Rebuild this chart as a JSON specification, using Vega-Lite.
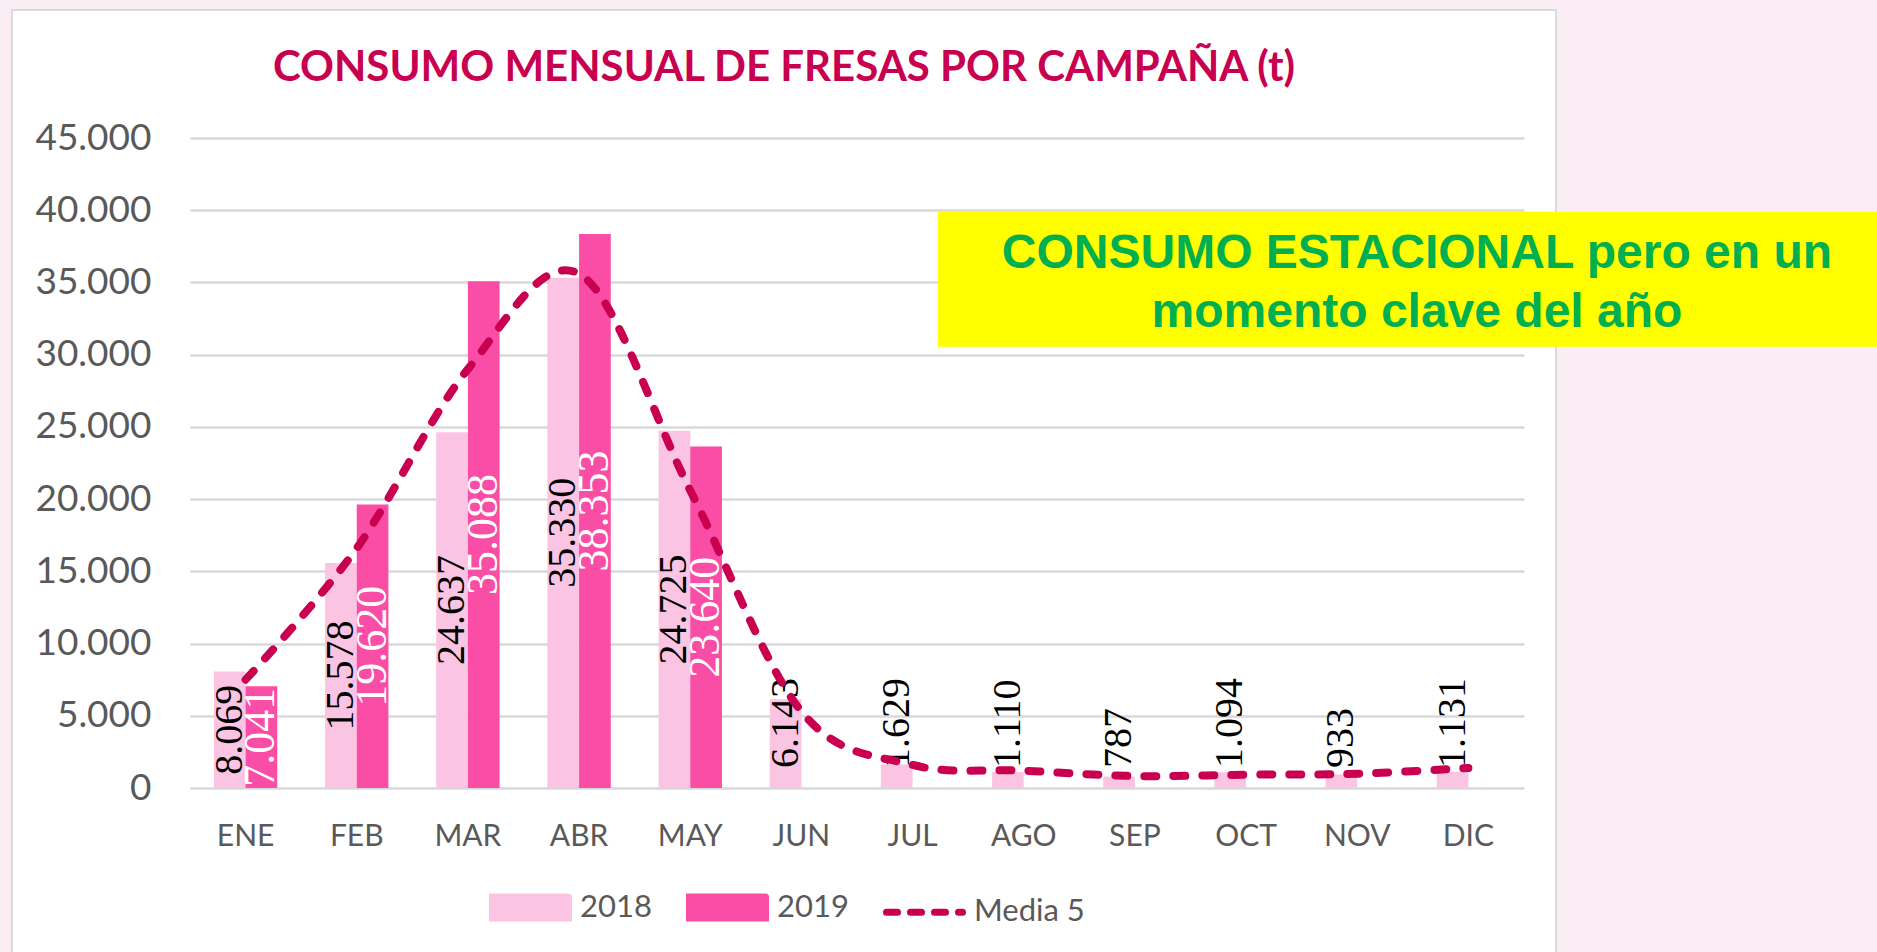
{
  "$schema": "https://vega.github.io/schema/vega-lite/v6.json",
  "width": 1544,
  "height": 950,
  "autosize": {"type": "none"},
  "padding": {"left": 12, "top": 10, "right": 321, "bottom": 0},
  "background": "#FAEEF4",
  "config": {
    "view": {"fill": "#FFFFFF", "stroke": "#D9D9D9", "strokeWidth": 2},
    "locale": {"number": {"decimal": ",", "thousands": ".", "grouping": [3], "currency": ["", " €"]}}
  },
  "title": {
    "text": "CONSUMO MENSUAL DE FRESAS POR CAMPAÑA (t)",
    "font": "Lato", "fontSize": 42, "fontWeight": "bold", "color": "#C8004F",
    "anchor": "middle", "frame": "group", "baseline": "alphabetic", "offset": -113
  },
  "datasets": {
    "bars": [
      {"mes": "ENE", "campana": "2018", "valor": 8069},
      {"mes": "ENE", "campana": "2019", "valor": 7041},
      {"mes": "FEB", "campana": "2018", "valor": 15578},
      {"mes": "FEB", "campana": "2019", "valor": 19620},
      {"mes": "MAR", "campana": "2018", "valor": 24637},
      {"mes": "MAR", "campana": "2019", "valor": 35088},
      {"mes": "ABR", "campana": "2018", "valor": 35330},
      {"mes": "ABR", "campana": "2019", "valor": 38353},
      {"mes": "MAY", "campana": "2018", "valor": 24725},
      {"mes": "MAY", "campana": "2019", "valor": 23640},
      {"mes": "JUN", "campana": "2018", "valor": 6143},
      {"mes": "JUL", "campana": "2018", "valor": 1629},
      {"mes": "AGO", "campana": "2018", "valor": 1110},
      {"mes": "SEP", "campana": "2018", "valor": 787},
      {"mes": "OCT", "campana": "2018", "valor": 1094},
      {"mes": "NOV", "campana": "2018", "valor": 933},
      {"mes": "DIC", "campana": "2018", "valor": 1131}
    ],
    "media": [
      {"mes": "ENE", "valor": 7500},
      {"mes": "FEB", "valor": 16600},
      {"mes": "MAR", "valor": 29000},
      {"mes": "ABR", "valor": 35600},
      {"mes": "MAY", "valor": 20600},
      {"mes": "JUN", "valor": 5300},
      {"mes": "JUL", "valor": 1600},
      {"mes": "AGO", "valor": 1200},
      {"mes": "SEP", "valor": 830},
      {"mes": "OCT", "valor": 920},
      {"mes": "NOV", "valor": 990},
      {"mes": "DIC", "valor": 1390}
    ]
  },
  "layer": [
    {
      "layer": [
        {
          "data": {"name": "bars"},
          "mark": {"type": "bar"},
          "encoding": {
            "x": {
              "field": "mes", "type": "nominal",
              "sort": ["ENE","FEB","MAR","ABR","MAY","JUN","JUL","AGO","SEP","OCT","NOV","DIC"],
              "scale": {"domain": ["ENE","FEB","MAR","ABR","MAY","JUN","JUL","AGO","SEP","OCT","NOV","DIC"], "range": [178, 1512], "paddingInner": 0.43, "paddingOuter": 0.215},
              "axis": {"title": null, "labelFont": "Lato", "labelFontSize": 30, "labelColor": "#595959", "domain": false, "ticks": false, "tickSize": 0, "labelPadding": 33, "offset": -172, "labelAngle": 0, "grid": false}
            },
            "xOffset": {"field": "campana", "type": "nominal", "scale": {"domain": ["2018", "2019"]}},
            "y": {
              "field": "valor", "type": "quantitative",
              "scale": {"domain": [0, 45000], "range": [778, 128], "nice": false},
              "axis": {"title": null, "values": [0,5000,10000,15000,20000,25000,30000,35000,40000,45000], "format": ",.0f", "labelFont": "Lato", "labelFontSize": 37, "labelColor": "#595959", "domain": false, "ticks": false, "tickSize": 0, "labelPadding": 10, "offset": -149, "grid": true, "gridColor": "#D9D9D9", "gridWidth": 2.5}
            },
            "color": {
              "field": "campana", "type": "nominal",
              "scale": {"domain": ["2018", "2019", "Media 5"], "range": ["#FBC4E3", "#FA4DA6", "#C8004F"]},
              "legend": {
                "orient": "none", "legendX": 477, "legendY": 856, "direction": "horizontal",
                "title": null, "padding": 0,
                "symbolSize": 5776, "symbolType": "M-1,-0.276H1V0.276H-1Z", "symbolStrokeWidth": 7,
                "labelFont": "Lato", "labelFontSize": 31, "labelColor": "#595959", "labelOffset": 8, "labelLimit": 300,
                "columnPadding": 23,
                "encode": {
                  "symbols": {
                    "update": {
                      "shape": {"signal": "datum.value === 'Media 5' ? 'M-1,0H1' : 'M-1,-0.276H1V0.276H-1Z'"},
                      "fill": {"signal": "datum.value === 'Media 5' ? 'transparent' : (datum.value === '2018' ? '#FBC4E3' : '#FA4DA6')"},
                      "stroke": {"signal": "datum.value === 'Media 5' ? '#C8004F' : 'transparent'"},
                      "strokeDash": {"signal": "datum.value === 'Media 5' ? [11, 13] : [1, 0]"},
                      "strokeCap": {"value": "round"},
                      "opacity": {"value": 1}
                    }
                  }
                }
              }
            }
          }
        },
        {
          "data": {"name": "bars"},
          "transform": [{"filter": "datum.valor >= 7000"}],
          "mark": {"type": "text", "angle": 270, "align": "center", "baseline": "middle", "font": "Liberation Sans Narrow"},
          "encoding": {
            "x": {
              "field": "mes", "type": "nominal",
              "sort": ["ENE","FEB","MAR","ABR","MAY","JUN","JUL","AGO","SEP","OCT","NOV","DIC"],
              "scale": {"domain": ["ENE","FEB","MAR","ABR","MAY","JUN","JUL","AGO","SEP","OCT","NOV","DIC"], "range": [178, 1512], "paddingInner": 0.43, "paddingOuter": 0.215},
              "axis": null
            },
            "xOffset": {"field": "campana", "type": "nominal", "scale": {"domain": ["2018", "2019"]}},
            "y": {"field": "valor", "type": "quantitative", "scale": {"domain": [0, 90000], "range": [778, 128], "nice": false}, "axis": null},
            "text": {"field": "valor", "type": "quantitative", "format": ",.0f"},
            "color": {"condition": {"test": "datum.campana === '2019'", "value": "#FFFFFF"}, "value": "#000000"},
            "size": {"condition": {"test": "datum.campana === '2019'", "value": 44}, "value": 40}
          }
        },
        {
          "data": {"name": "bars"},
          "transform": [{"filter": "datum.valor < 7000"}],
          "mark": {"type": "text", "angle": 270, "align": "left", "baseline": "middle", "font": "Liberation Sans Narrow", "fontSize": 40, "yOffset": -20, "color": "#000000"},
          "encoding": {
            "x": {
              "field": "mes", "type": "nominal",
              "sort": ["ENE","FEB","MAR","ABR","MAY","JUN","JUL","AGO","SEP","OCT","NOV","DIC"],
              "scale": {"domain": ["ENE","FEB","MAR","ABR","MAY","JUN","JUL","AGO","SEP","OCT","NOV","DIC"], "range": [178, 1512], "paddingInner": 0.43, "paddingOuter": 0.215},
              "axis": null
            },
            "xOffset": {"field": "campana", "type": "nominal", "scale": {"domain": ["2018", "2019"]}},
            "y": {"datum": 0, "type": "quantitative", "scale": {"domain": [0, 45000], "range": [778, 128], "nice": false}, "axis": null},
            "text": {"field": "valor", "type": "quantitative", "format": ",.0f"}
          }
        },
        {
          "data": {"name": "media"},
          "mark": {"type": "line", "interpolate": "cardinal", "strokeWidth": 8, "strokeDash": [12, 17], "strokeCap": "round"},
          "encoding": {
            "x": {
              "field": "mes", "type": "nominal",
              "sort": ["ENE","FEB","MAR","ABR","MAY","JUN","JUL","AGO","SEP","OCT","NOV","DIC"],
              "scale": {"domain": ["ENE","FEB","MAR","ABR","MAY","JUN","JUL","AGO","SEP","OCT","NOV","DIC"], "range": [178, 1512], "paddingInner": 0.43, "paddingOuter": 0.215},
              "axis": null
            },
            "y": {"field": "valor", "type": "quantitative", "scale": {"domain": [0, 45000], "range": [778, 128], "nice": false}, "axis": null},
            "color": {"datum": "Media 5", "type": "nominal", "scale": {"domain": ["2018", "2019", "Media 5"], "range": ["#FBC4E3", "#FA4DA6", "#C8004F"]}}
          }
        }
      ],
      "resolve": {"scale": {"y": "independent"}, "axis": {"x": "independent"}}
    },
    {
      "data": {"values": [{"nota": "CONSUMO ESTACIONAL pero en un\nmomento clave del año"}]},
      "layer": [
        {
          "mark": {"type": "rect", "color": "#FFFF00"},
          "encoding": {
            "x": {"datum": 6.737, "type": "quantitative", "scale": {"domain": [0, 12], "range": [177, 1511], "nice": false, "zero": false}, "axis": null},
            "x2": {"datum": 15.5},
            "y": {"datum": 39900, "type": "quantitative", "scale": {"domain": [0, 45000], "range": [778, 128], "nice": false}, "axis": null},
            "y2": {"datum": 30550}
          }
        },
        {
          "mark": {"type": "text", "font": "Liberation Sans", "fontWeight": "bold", "fontSize": 48, "color": "#00B050", "align": "center", "baseline": "alphabetic", "lineBreak": "\n", "lineHeight": 59},
          "encoding": {
            "x": {"datum": 11.046, "type": "quantitative"},
            "y": {"datum": 36000, "type": "quantitative"},
            "text": {"field": "nota", "type": "nominal"}
          }
        }
      ]
    }
  ],
  "resolve": {"scale": {"x": "independent", "y": "independent"}}
}
